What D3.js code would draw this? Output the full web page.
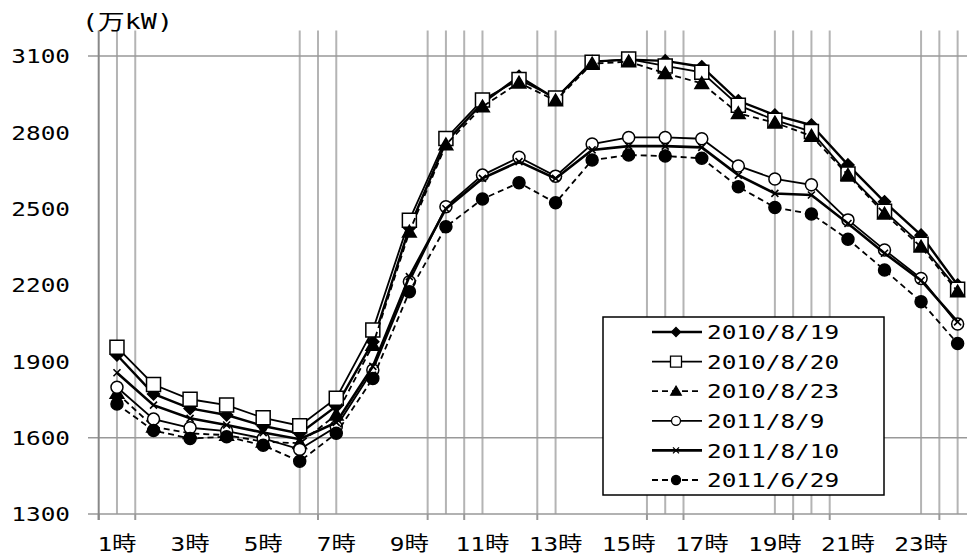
<!DOCTYPE html>
<html><head><meta charset="utf-8">
<script src="https://cdn.jsdelivr.net/npm/d3@7"></script>
<style>body{margin:0;background:#fff}svg{display:block}</style>
</head><body>
<svg id="c" width="967" height="556"></svg>
<script>
// ---------- data ----------
const hours = [1,2,3,4,5,6,7,8,9,10,11,12,13,14,15,16,17,18,19,20,21,22,23,24];
const xLabelHours = [1,3,5,7,9,11,13,15,17,19,21,23];
const xLabelSuffix = "時";
const yTicks = [1300,1600,1900,2200,2500,2800,3100];
const yGridValues = [1600,3100];
const vGridHours = [1,1.5,6,6.5,7,9.5,10,10.5,11,12.5,13,15.5,16,16.5,19,19.5,20,20.5,23,23.5,24];
const tickHours = [0.5,1.5,6.5,9.5,10.5,12.5,15.5,16.5,19.5,20.5,23.5];
const unitLabel = "(万kW)";
const seriesNames = ["2010/8/19","2010/8/20","2010/8/23","2011/8/9","2011/8/10","2011/6/29"];
const d20100819 = [1925,1772,1715,1689,1646,1617,1724,1977,2425,2762,2915,3020,2932,3078,3086,3081,3058,2924,2868,2829,2672,2527,2396,2200];
const d20100820 = [1955,1809,1751,1728,1678,1647,1755,2023,2455,2776,2927,3008,2935,3076,3088,3061,3036,2907,2848,2803,2636,2490,2360,2183];
const d20100823 = [1775,1643,1617,1610,1584,1578,1690,1964,2409,2752,2901,2995,2925,3070,3078,3032,2993,2875,2838,2786,2632,2480,2350,2174];
const d20110809 = [1798,1673,1639,1626,1597,1554,1643,1866,2213,2508,2632,2702,2628,2754,2780,2780,2775,2668,2617,2594,2456,2338,2226,2047];
const d20110810 = [1855,1728,1676,1650,1620,1594,1660,1880,2233,2500,2619,2685,2619,2731,2746,2746,2741,2632,2560,2554,2442,2325,2218,2055];
const d20110629 = [1732,1628,1597,1604,1570,1507,1617,1833,2174,2429,2538,2602,2523,2691,2711,2707,2698,2586,2505,2479,2380,2259,2134,1970];
const seriesValues = [d20100819,d20100820,d20100823,d20110809,d20110810,d20110629];

// ---------- styles ----------
const styles = [
  {marker:"diamond", r:6,   lr:4.5, fill:"#000", width:2.4, dash:null},
  {marker:"square",  r:7,   lr:5.5, fill:"#fff", width:1.8, dash:null},
  {marker:"triangle",r:6.5, lr:5,   fill:"#000", width:1.8, dash:"6,4"},
  {marker:"circle",  r:6,   lr:4.5, fill:"#fff", width:1.8, dash:null},
  {marker:"x",       r:3.5, lr:3,   fill:"none", width:2.6, dash:null},
  {marker:"circle",  r:6,   lr:4.5, fill:"#000", width:1.8, dash:"6,4"}
];
const FONT = "'DejaVu Sans Mono','Noto Sans CJK JP',monospace";
const SX = 1.22;

function markerPath(type, r){
  switch(type){
    case "diamond": return `M0,${-r}L${r},0L0,${r}L${-r},0Z`;
    case "square": return `M${-r},${-r}H${r}V${r}H${-r}Z`;
    case "triangle": return `M0,${-r}L${r*1.05},${r*0.8}L${-r*1.05},${r*0.8}Z`;
    case "circle": return `M${r},0A${r},${r} 0 1,1 ${-r},0A${r},${r} 0 1,1 ${r},0Z`;
    case "x": return `M${-r},${-r}L${r},${r}M${r},${-r}L${-r},${r}`;
  }
}

const svg = d3.select("#c");
const x = d3.scaleLinear().domain([0.5, 24.5]).range([98.7, 975.9]);
const y = d3.scaleLinear().domain([1300, 3200]).range([514, 30.6]);

// vertical gridlines
svg.append("g").selectAll("line").data(vGridHours).join("line")
  .attr("x1", d=>x(d)).attr("x2", d=>x(d))
  .attr("y1", y(3200)).attr("y2", y(1300))
  .attr("stroke", "#b4b4b4").attr("stroke-width", 2);
// tick marks below x axis
svg.append("g").selectAll("line").data(tickHours).join("line")
  .attr("x1", d=>x(d)).attr("x2", d=>x(d))
  .attr("y1", y(1300)).attr("y2", y(1300)+6)
  .attr("stroke", "#999").attr("stroke-width", 2);
// horizontal gridlines
svg.append("g").selectAll("line").data(yGridValues).join("line")
  .attr("x1", 88).attr("x2", 967)
  .attr("y1", d=>y(d)).attr("y2", d=>y(d))
  .attr("stroke", "#999").attr("stroke-width", 1.5);
// x axis line
svg.append("line").attr("x1", 88).attr("x2", 967)
  .attr("y1", y(1300)).attr("y2", y(1300))
  .attr("stroke", "#999").attr("stroke-width", 1.5);
// y axis line
svg.append("line").attr("x1", x(0.5)).attr("x2", x(0.5))
  .attr("y1", y(3200)).attr("y2", y(1300)+6)
  .attr("stroke", "#888").attr("stroke-width", 2);

// y tick labels
svg.append("g").selectAll("g").data(yTicks).join("g")
  .attr("transform", d=>`translate(70,${y(d)})`)
  .append("text").attr("transform", `scale(${SX},1)`)
  .attr("text-anchor","end").attr("dy","0.36em")
  .attr("font-family", FONT).attr("font-size", 20).attr("fill","#000")
  .text(d=>d);
// x tick labels
svg.append("g").selectAll("g").data(xLabelHours).join("g")
  .attr("transform", d=>`translate(${x(d)},551)`)
  .append("text").attr("transform", `scale(${SX},1)`)
  .attr("text-anchor","middle")
  .attr("font-family", FONT).attr("font-size", 20).attr("fill","#000")
  .text(d=>d + xLabelSuffix);
// unit label
svg.append("text").attr("x",82).attr("y",29)
  .attr("font-family", FONT).attr("font-size", 21).attr("fill","#000")
  .attr("textLength", 91).attr("lengthAdjust","spacingAndGlyphs")
  .text(unitLabel);

// series
const line = d3.line().x((d,i)=>x(hours[i])).y(d=>y(d));
seriesValues.forEach((vals, si)=>{
  const st = styles[si];
  const g = svg.append("g");
  g.append("path").attr("d", line(vals)).attr("fill","none")
    .attr("stroke","#000").attr("stroke-width", st.width)
    .attr("stroke-dasharray", st.dash);
  g.selectAll("path.m").data(vals).join("path").attr("class","m")
    .attr("transform",(d,i)=>`translate(${x(hours[i])},${y(d)})`)
    .attr("d", markerPath(st.marker, st.r))
    .attr("fill", st.fill).attr("stroke","#000")
    .attr("stroke-width", st.marker==="x"?1.6:1.5);
});

// legend
const lg = svg.append("g").attr("transform","translate(603,317)");
lg.append("rect").attr("width",281).attr("height",178)
  .attr("fill","#fff").attr("stroke","#000").attr("stroke-width",1.5);
const ly = d3.scaleLinear().domain([0,5]).range([15,163]);
seriesNames.forEach((name, si)=>{
  const st = styles[si];
  const row = lg.append("g").attr("transform",`translate(0,${ly(si)})`);
  row.append("line").attr("x1",49).attr("x2",99).attr("y1",0).attr("y2",0)
    .attr("stroke","#000").attr("stroke-width", st.width).attr("stroke-dasharray", st.dash);
  row.append("path").attr("transform","translate(73,0)")
    .attr("d", markerPath(st.marker, st.lr))
    .attr("fill", st.fill).attr("stroke","#000").attr("stroke-width",1.3);
  row.append("g").attr("transform","translate(104,0)")
    .append("text").attr("transform",`scale(${SX},1)`)
    .attr("dy","0.36em").attr("font-family", FONT).attr("font-size",20).attr("fill","#000")
    .text(name);
});
</script>
</body></html>
